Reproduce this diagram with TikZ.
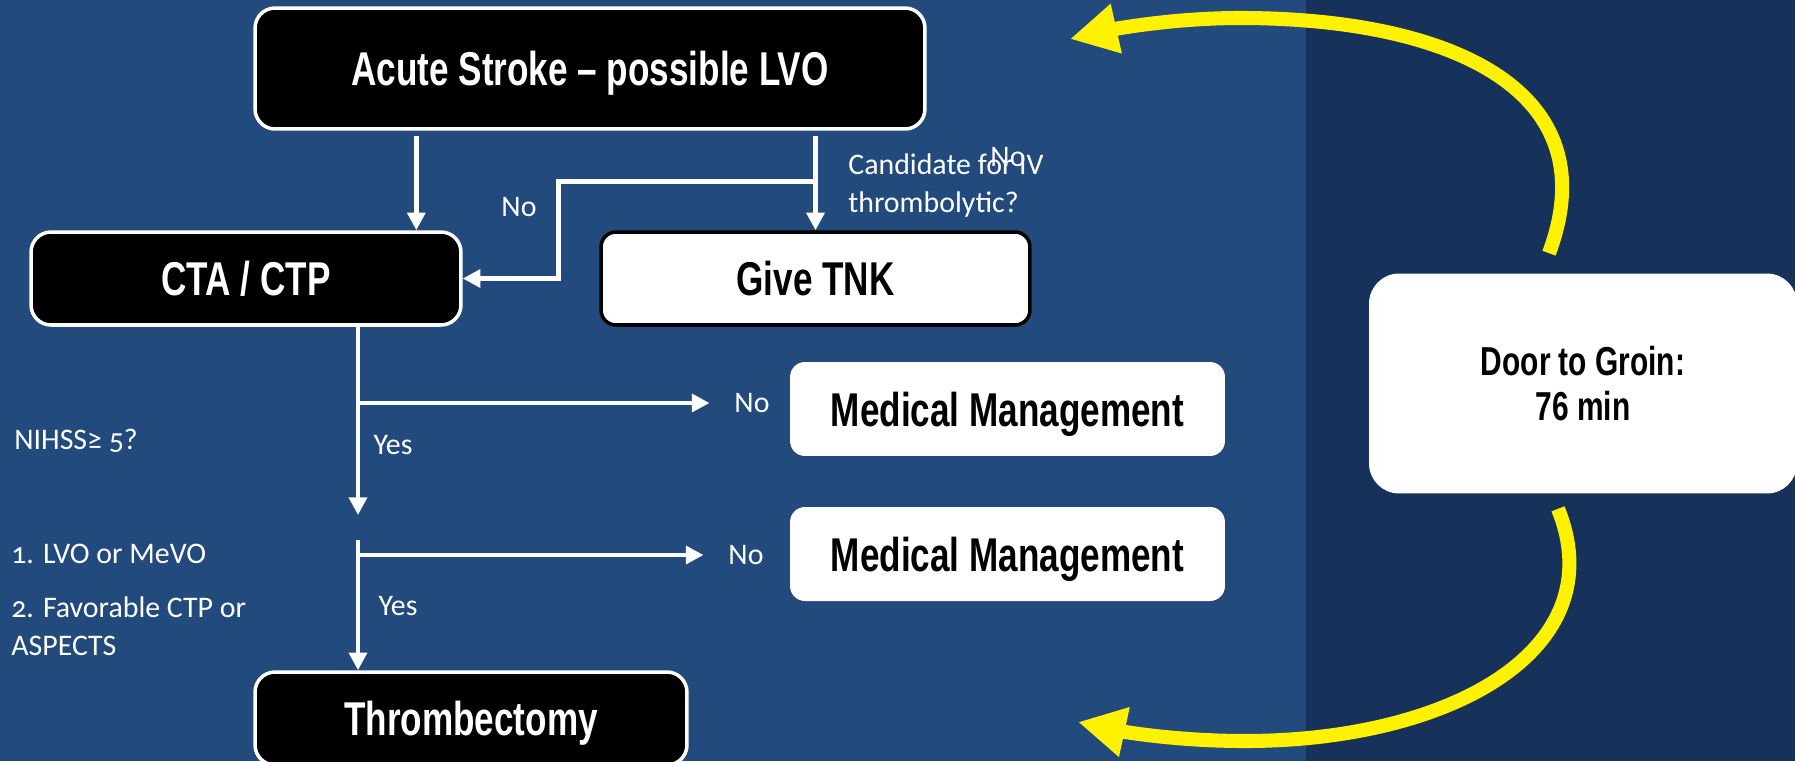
\documentclass[tikz,border=0pt]{standalone}
\usepackage{fontspec}
\setmainfont{Carlito}[Numbers=OldStyle]
\newfontfamily\boxfont{Liberation Sans}[FakeStretch=0.74]
\usetikzlibrary{arrows.meta,calc,positioning}
\definecolor{slideblue}{HTML}{224A7C}
\definecolor{panelblue}{HTML}{17325A}
\tikzset{
  darkbox/.style={draw=white, line width=2pt, fill=black, text=white, inner sep=0pt, text depth=0pt,
    rounded corners=0.4cm, font=\boxfont\bfseries\fontsize{27}{30}\selectfont},
  whitebox/.style={fill=white, text=black, inner sep=0pt, text depth=0pt, rounded corners=0.3cm,
    font=\boxfont\bfseries\fontsize{27}{30}\selectfont},
  tnkbox/.style={whitebox, draw=black, line width=2pt},
  doorbox/.style={fill=white, text=black, inner sep=0pt, rounded corners=0.6cm, align=center,
    font=\boxfont\bfseries\fontsize{23}{26}\selectfont},
  lbl/.style={text=white, inner sep=0pt, font=\fontsize{17}{21.6}\selectfont},
  flow/.style={draw=white, line width=2.8pt, -{Triangle[length=10pt,width=10pt]}},
  timeloop/.style={draw=yellow, line width=8pt, -{Triangle[length=27pt,width=27pt]}}
}
\begin{document}
\begin{tikzpicture}[x=0.02cm,y=-0.02cm]

% --- Sfondo ---
\useasboundingbox (0,0) rectangle (1795,761);
\fill[slideblue] (0,0) rectangle (1795,761);
\fill[panelblue] (1306,0) rectangle (1795,761);

% --- Riquadri ---
\node[darkbox, minimum width=13.4cm, minimum height=2.42cm] (stroke) at (590,68.5) {Acute Stroke – possible LVO};
\node[darkbox, minimum width=8.6cm, minimum height=1.86cm] (cta) at (246,278.5) {CTA / CTP};
\node[tnkbox, minimum width=8.58cm, minimum height=1.86cm] (tnk) at (815.5,278.5) {Give TNK};
\foreach \n/\y in {1/409, 2/554} {
    \node[whitebox, minimum width=8.7cm, minimum height=1.88cm] (med\n) at (1007.5,\y) {Medical Management};
}
\node[darkbox, minimum width=8.64cm, minimum height=1.86cm] (thromb) at (471,718.5) {Thrombectomy};
\node[doorbox, minimum width=8.56cm, minimum height=4.4cm] (door) at (1583,383.5) {Door to Groin:\\76 min};

% --- Etichette ---
\node[lbl] (noa) at (519,207) {No};
\node[lbl, anchor=north west, align=left] (cand) at (848,153) {Candidate for IV\\thrombolytic?};
\node[lbl] (nob) at (1008,157) {No};
\node[lbl, anchor=west] (nihss) at (14,441) {NIHSS≥ 5?};
\node[lbl] (no1) at (752,403) {No};
\node[lbl] (yes1) at (393,445) {Yes};
\node[lbl, anchor=west] (lvo) at (11,554) {1. LVO or MeVO};
\node[lbl, anchor=north west, align=left] (fav) at (11,596) {2. Favorable CTP or\\ASPECTS};
\node[lbl] (no2) at (746,555) {No};
\node[lbl] (yes2) at (398,606) {Yes};

% --- Frecce bianche ---
\coordinate (trunk1) at (358,515);
\coordinate (trunk2) at (358,540);
\draw[flow, shorten <=3pt] ($(stroke.south west)+(163,0)$) coordinate (s1) -- (s1 |- cta.north);
\draw[flow, shorten <=3pt] (tnk.north |- stroke.south) -- (tnk.north);
\draw[flow] ($(tnk.north)+(0,-49)$) -| ($(cta.east)+(96,0)$) -- (cta.east);
\draw[flow] (trunk1 |- cta.south) -- (trunk1);
\draw[flow] (trunk2) -- (trunk2 |- thromb.north);
\draw[flow] (trunk1 |- no1) -- ([xshift=-14pt]no1.west);
\draw[flow] (trunk1 |- no2) -- ([xshift=-14pt]no2.west);

% --- Frecce gialle ---
\coordinate (loopTop) at (1070,39);
\coordinate (loopBot) at (1078,722);
\draw[timeloop] ($(door.north)+(-34,-20)$) .. controls (1610,90) and (1450,18) .. (1240,18)
    .. controls (1170,18) and (1110,30) .. (loopTop);
\draw[timeloop] ($(door.south)+(-25,15)$) .. controls (1615,650) and (1450,741) .. (1245,741)
    .. controls (1170,741) and (1115,730) .. (loopBot);

\end{tikzpicture}
\end{document}
